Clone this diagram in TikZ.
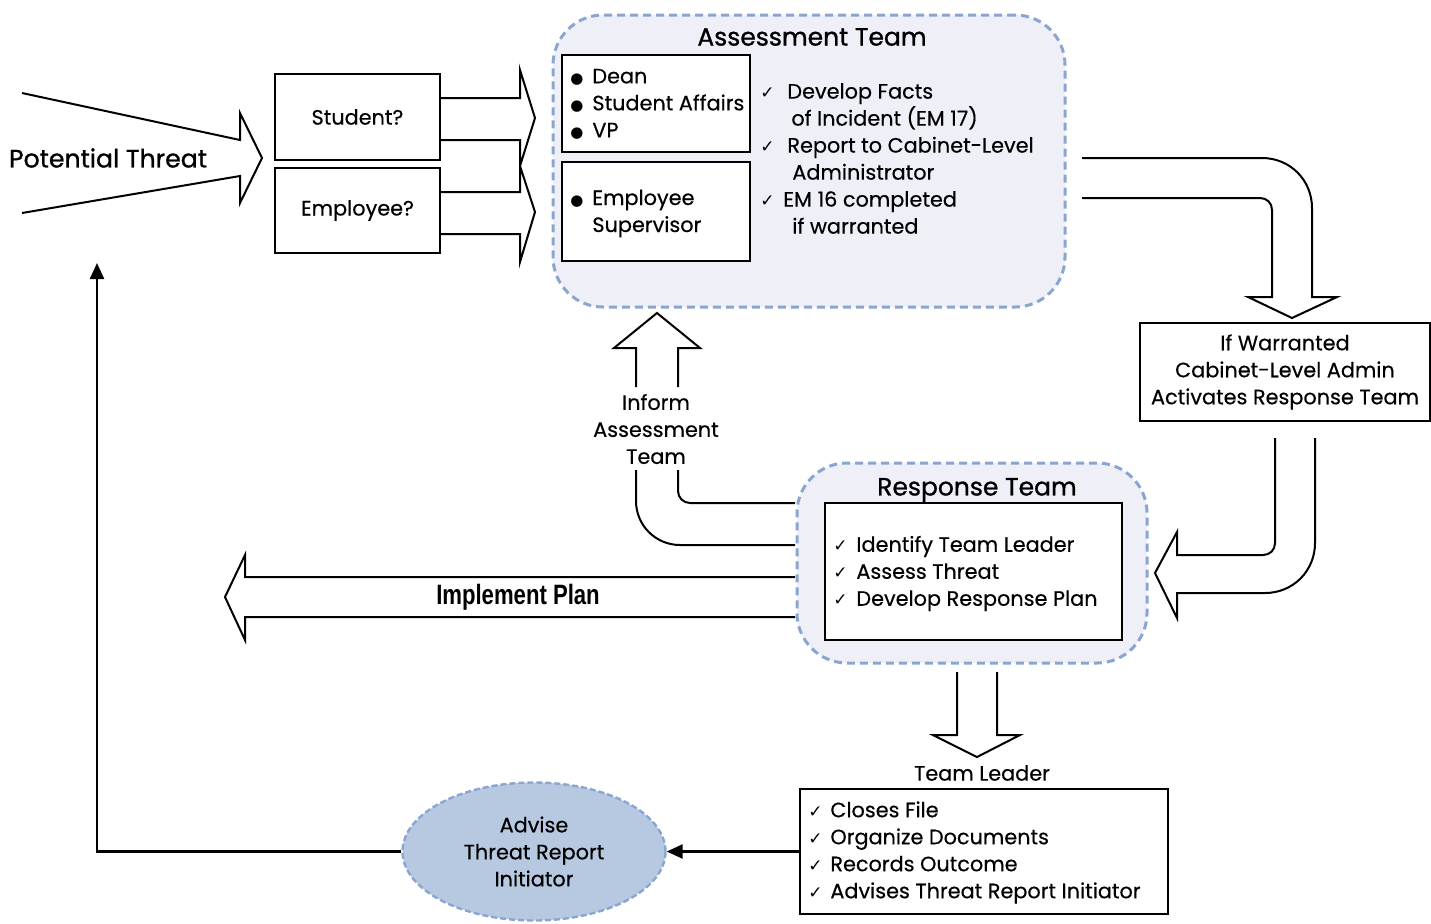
\documentclass[tikz,border=0pt]{standalone}
\usepackage{fontspec}
\setmainfont{Poppins}[FakeBold=0.4]
\newfontfamily\symfont{DejaVu Sans}
\newfontfamily\condfont[FakeStretch=0.79]{Liberation Sans}
\newfontfamily\titlefont{Poppins}[FakeBold=1]
\usepackage{tikz}
\usetikzlibrary{arrows.meta,shapes.geometric}
\definecolor{dashblue}{RGB}{138,166,208}
\definecolor{teamfill}{RGB}{239,240,247}
\definecolor{advisefill}{RGB}{183,200,225}
\newcommand{\boxline}{1.2pt}
\newcommand{\arrline}{1pt}
\newcommand{\txt}{\fontsize{10.4}{13.5}\selectfont}
\newcommand{\bigtxt}{\titlefont\fontsize{12.5}{14}\selectfont}
\newcommand{\chk}[1]{\makebox[#1][l]{\symfont\fontsize{8.5}{8.5}\selectfont ✓}}
\newcommand{\bul}{\makebox[11pt][l]{\symfont\fontsize{7.5}{7.5}\selectfont ●}}
\tikzset{
  plainbox/.style={draw, line width=\boxline, inner sep=0pt, font=\txt},
  teambox/.style={draw=dashblue, fill=teamfill, line width=1.5pt, dash pattern=on 4pt off 2.5pt, rounded corners=25pt, inner sep=0pt},
  itemtext/.style={inner sep=0pt, align=left, font=\txt, anchor=west},
  blockarrow/.style={draw, line width=\arrline, line join=miter},
  thinarrow/.style={draw, line width=\boxline, -{Triangle[length=8pt,width=7pt]}},
}

\begin{document}
\begin{tikzpicture}[x=0.5pt,y=-0.5pt]
\useasboundingbox (0,0) rectangle (1431,923);
%teams
\node[teambox, minimum width=256pt, minimum height=146pt] (assess) at (809,161) {};
\node[teambox, minimum width=175pt, minimum height=100pt] (response) at (972,563) {};
\node[font=\bigtxt] (assesstitle) at (812,37) {Assessment Team};
\node[font=\bigtxt] (responsetitle) at (977,490) {Response Team};
%boxes
\node[plainbox, minimum width=82.5pt, minimum height=43pt] (stud) at (357.5,117) {Student?};
\node[plainbox, minimum width=82.5pt, minimum height=42.5pt] (emp) at (357.5,210.5) {Employee?};
\node[plainbox, fill=white, minimum width=94pt, minimum height=48.5pt] (stafflist) at (656,103.5) {};
\node[plainbox, fill=white, minimum width=94pt, minimum height=49.5pt] (suplist) at (656,211.5) {};
\node[plainbox, minimum width=145pt, minimum height=49pt, align=center] (warrant) at (1285,372) {If Warranted\\Cabinet-Level Admin\\Activates Response Team};
\node[plainbox, fill=white, minimum width=148.5pt, minimum height=68.5pt] (resplist) at (973.5,571.5) {};
\node[plainbox, minimum width=184pt, minimum height=62.5pt] (leader) at (984,851.5) {};
\node[ellipse, draw=dashblue, fill=advisefill, line width=1.2pt, dash pattern=on 3pt off 1.5pt, minimum width=131.5pt, minimum height=69pt, inner sep=0pt, align=center, font=\txt] (advise) at (534,851.5) {Advise\\Threat Report\\Initiator};
%texts
\node[font=\titlefont\fontsize{12.6}{14}\selectfont] (threat) at (108,158) {Potential Threat};
\node[itemtext] (stafftext) at (570,104) {\bul Dean\\ \bul Student Affairs\\ \bul VP};
\node[itemtext] (suptext) at (570,213.5) {\bul Employee\\ \hspace*{11pt}Supervisor};
\node[itemtext] (facts) at (760,158.5) {\chk{13.5pt}Develop Facts\\ \hspace*{15.5pt}of Incident (EM 17)\\ \chk{13.5pt}Report to Cabinet-Level\\ \hspace*{16pt}Administrator\\ \chk{11.5pt}EM 16 completed\\ \hspace*{16pt}if warranted};
\node[itemtext] (resptext) at (833,573.5) {\chk{11.5pt}Identify Team Leader\\ \chk{11.5pt}Assess Threat\\ \chk{11.5pt}Develop Response Plan};
\node[itemtext] (leadtext) at (808,852.5) {\chk{11pt}Closes File\\ \chk{11pt}Organize Documents\\ \chk{11pt}Records Outcome\\ \chk{11pt}Advises Threat Report Initiator};
\node[font=\txt, align=center] (inform) at (656,429) {Inform\\Assessment\\Team};
\node[font=\txt] (leadtitle) at (982,773) {Team Leader};
\node[font=\condfont\bfseries\fontsize{14}{16}\selectfont] (implement) at (518,597) {Implement Plan};
%block arrows
\draw[blockarrow] (22,93) -- (240,140) -- (240,113) -- (262,158) -- (240,203) -- (240,176) -- (22,213);
\draw[blockarrow] (440,98) -- (520,98) -- (520,70) -- (535,118) -- (520,166) -- (520,140) -- (440,140);
\draw[blockarrow] (440,192) -- (520,192) -- (520,166) -- (535,212) -- (520,262) -- (520,234) -- (440,234);
\draw[blockarrow] (1082,158) -- (1262,158) .. controls (1290,158) and (1312,180) .. (1312,208) -- (1312,297) -- (1337,297) -- (1292,318) -- (1248,297) -- (1272,297) -- (1272,210) .. controls (1272,203) and (1267,198) .. (1260,198) -- (1082,198);
\draw[blockarrow] (1275,438) -- (1275,543) .. controls (1275,550) and (1270,555) .. (1263,555) -- (1177,555) -- (1177,532) -- (1155,573) -- (1177,618) -- (1177,593) -- (1265,593) .. controls (1293,593) and (1315,571) .. (1315,543) -- (1315,438);
\draw[blockarrow] (636,387) -- (636,348) -- (614,348) -- (657,313) -- (700,348) -- (678,348) -- (678,387);
\draw[blockarrow] (636,470) [rounded corners=22pt] -- (636,545) -- (795,545);
\draw[blockarrow] (678,470) [rounded corners=6pt] -- (678,503) -- (795,503);
\draw[blockarrow] (795,577) -- (245,577) -- (245,555) -- (225,597) -- (245,640) -- (245,617) -- (795,617);
\draw[blockarrow] (957,672) -- (957,735) -- (933,735) -- (977,757) -- (1020,735) -- (997,735) -- (997,672);
%thin arrows
\coordinate (backtip) at (97,263);
\draw[thinarrow] (leader.west) -- (advise.east);
\draw[thinarrow] (advise.west) -| (backtip);
\end{tikzpicture}
\end{document}
